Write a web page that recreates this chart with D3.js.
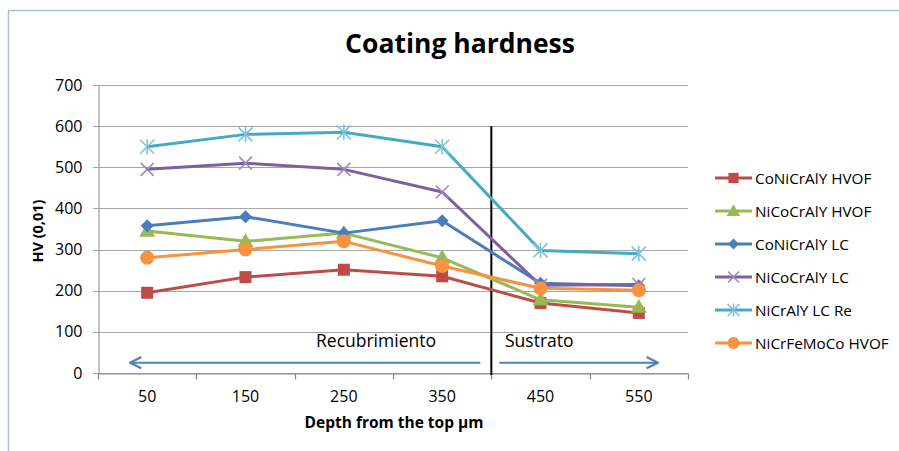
<!DOCTYPE html>
<html>
<head>
<meta charset="utf-8">
<script src="https://cdn.jsdelivr.net/npm/d3@7"></script>
<style>
  html, body { margin: 0; padding: 0; background: #fff; }
  svg { display: block; font-family: "Open Sans", sans-serif; }
</style>
</head>
<body>
<svg id="chart" width="899" height="451"></svg>
<script>
// Depth categories (µm from the top surface)
const depths = ["50", "150", "250", "350", "450", "550"];
const yTicks = [0, 100, 200, 300, 400, 500, 600, 700];

// Microhardness HV(0,01) per coating
const coNiCrAlYHVOF   = [195, 233, 251, 235, 170, 146];
const niCoCrAlYHVOF   = [345, 320, 340, 280, 178, 160];
const coNiCrAlYLC     = [358, 380, 340, 370, 218, 212];
const niCoCrAlYLC     = [495, 510, 495, 440, 213, 215];
const niCrAlYLCRe     = [550, 580, 585, 550, 298, 290];
const niCrFeMoCoHVOF  = [280, 300, 320, 260, 206, 201];

const series = [
  { name: "CoNiCrAlY HVOF",  values: coNiCrAlYHVOF,  color: "#BE4B48", marker: "square" },
  { name: "NiCoCrAlY HVOF",  values: niCoCrAlYHVOF,  color: "#98B954", marker: "triangle" },
  { name: "CoNiCrAlY LC",    values: coNiCrAlYLC,    color: "#4A7EBB", marker: "diamond" },
  { name: "NiCoCrAlY  LC",   values: niCoCrAlYLC,    color: "#7D60A0", marker: "x" },
  { name: "NiCrAlY  LC Re",  values: niCrAlYLCRe,    color: "#46AAC5", marker: "star" },
  { name: "NiCrFeMoCo HVOF", values: niCrFeMoCoHVOF, color: "#F69240", marker: "circle" }
];

const FONT = "'Open Sans', sans-serif";
const svg = d3.select("#chart");

// Outer chart frame
svg.append("rect")
  .attr("x", 8.5).attr("y", 10.5)
  .attr("width", 1000).attr("height", 1000)
  .attr("fill", "none").attr("stroke", "#A7BFDE").attr("stroke-width", 1.5);

const plot = { left: 98, right: 688, top: 85, bottom: 373 };

const x = d3.scaleBand().domain(depths).range([plot.left, plot.right]);
const y = d3.scaleLinear().domain([0, 700]).range([plot.bottom, plot.top]);
const cx = d => x(d) + x.bandwidth() / 2;

// Horizontal gridlines
svg.append("g").selectAll("line").data(yTicks).join("line")
  .attr("x1", plot.left - 5).attr("x2", plot.right)
  .attr("y1", d => Math.round(y(d)) + 0.5).attr("y2", d => Math.round(y(d)) + 0.5)
  .attr("stroke", "#A6A6A6").attr("stroke-width", 1.2);

// Y axis
const yAxis = svg.append("g")
  .attr("transform", `translate(${plot.left + 0.5},0)`)
  .call(d3.axisLeft(y).tickValues(yTicks).tickSize(0).tickPadding(16));
yAxis.select(".domain").attr("stroke", "#868686");
yAxis.selectAll("text").attr("font-size", 16).attr("fill", "#000").attr("font-family", FONT);

// X axis
const xAxis = svg.append("g")
  .attr("transform", `translate(0,${Math.round(y(0)) + 0.5})`)
  .call(d3.axisBottom(x).tickSize(0).tickPadding(17));
xAxis.select(".domain").attr("stroke", "#868686").attr("stroke-width", 1.2);
xAxis.selectAll("text").attr("font-size", 16).attr("fill", "#000").attr("font-family", FONT);
// tick marks sit on category boundaries
const bounds = depths.map(d => x(d)).concat([x(depths[depths.length - 1]) + x.bandwidth()]);
xAxis.selectAll(".bound").data(bounds).join("line")
  .attr("class", "bound")
  .attr("x1", d => Math.round(d) + 0.5).attr("x2", d => Math.round(d) + 0.5)
  .attr("y1", 0).attr("y2", 6)
  .attr("stroke", "#868686").attr("stroke-width", 1.2);

// Region arrows (coating vs substrate)
const defs = svg.append("defs");
defs.append("marker").attr("id", "arrowHead")
  .attr("viewBox", "0 0 10 10").attr("refX", 9).attr("refY", 5)
  .attr("markerWidth", 7).attr("markerHeight", 7).attr("orient", "auto-start-reverse")
  .append("path").attr("d", "M1,1 L9,5 L1,9").attr("fill", "none")
  .attr("stroke", "#4F81BD").attr("stroke-width", 1.6);

const boundaryX = x("450");
const arrowY = y(25);
svg.append("line")
  .attr("x1", cx("50") - 17).attr("x2", boundaryX - 11)
  .attr("y1", arrowY).attr("y2", arrowY)
  .attr("stroke", "#4F81BD").attr("stroke-width", 2)
  .attr("marker-start", "url(#arrowHead)");
svg.append("line")
  .attr("x1", boundaryX + 8).attr("x2", cx("550") + 19)
  .attr("y1", arrowY).attr("y2", arrowY)
  .attr("stroke", "#4F81BD").attr("stroke-width", 2)
  .attr("marker-end", "url(#arrowHead)");

// Coating / substrate divider
svg.append("line")
  .attr("x1", boundaryX).attr("x2", boundaryX)
  .attr("y1", y(600)).attr("y2", y(0) + 2)
  .attr("stroke", "#000").attr("stroke-width", 2);

svg.append("text").text("Recubrimiento")
  .attr("x", 376).attr("y", 347).attr("text-anchor", "middle")
  .attr("font-size", 17.5).attr("font-family", FONT);
svg.append("text").text("Sustrato")
  .attr("x", 505).attr("y", 347)
  .attr("font-size", 17.5).attr("font-family", FONT);

// Marker shapes
function drawMarker(g, type, color, px, py, scale) {
  const s = scale || 1;
  if (type === "square") {
    g.append("rect").attr("x", px - 6 * s).attr("y", py - 6 * s)
      .attr("width", 12 * s).attr("height", 12 * s).attr("fill", color);
  } else if (type === "triangle") {
    g.append("path").attr("d", d3.symbol(d3.symbolTriangle, 110 * s * s)())
      .attr("transform", `translate(${px},${py + 1})`).attr("fill", color);
  } else if (type === "diamond") {
    const r = 6.5 * s;
    g.append("path").attr("d", `M${px},${py - r}L${px + r},${py}L${px},${py + r}L${px - r},${py}Z`)
      .attr("fill", color);
  } else if (type === "circle") {
    g.append("circle").attr("cx", px).attr("cy", py).attr("r", 7 * s).attr("fill", color);
  } else if (type === "x") {
    const r = 6.5 * s;
    g.append("path").attr("d", `M${px - r},${py - r}L${px + r},${py + r}M${px - r},${py + r}L${px + r},${py - r}`)
      .attr("stroke", "#9C8AC0").attr("stroke-width", 1.6).attr("fill", "none");
  } else if (type === "star") {
    const r = 7 * s;
    g.append("path").attr("d",
      `M${px - r},${py - r}L${px + r},${py + r}M${px - r},${py + r}L${px + r},${py - r}M${px},${py - r * 1.1}L${px},${py + r * 1.1}`)
      .attr("stroke", "#7CC4D8").attr("stroke-width", 1.6).attr("fill", "none");
  }
}

// Series lines and markers
const line = d3.line()
  .x((d, i) => cx(depths[i]))
  .y(d => y(d));

series.forEach(s => {
  const g = svg.append("g");
  g.append("path").datum(s.values).attr("d", line)
    .attr("fill", "none").attr("stroke", s.color).attr("stroke-width", 3)
    .attr("stroke-linejoin", "round");
  s.values.forEach((v, i) => drawMarker(g, s.marker, s.color, cx(depths[i]), y(v)));
});

// Legend
const legend = svg.append("g");
series.forEach((s, i) => {
  const ly = 178 + i * 33;
  legend.append("line").attr("x1", 715).attr("x2", 752).attr("y1", ly).attr("y2", ly)
    .attr("stroke", s.color).attr("stroke-width", 3);
  drawMarker(legend, s.marker, s.color, 733.5, ly, 0.85);
  legend.append("text").text(s.name).attr("x", 755).attr("y", ly + 5.5)
    .attr("font-size", 15.3).attr("font-family", FONT);
});

// Titles
svg.append("text").text("Coating hardness")
  .attr("x", 460).attr("y", 53).attr("text-anchor", "middle")
  .attr("font-size", 26.5).attr("font-weight", "bold").attr("font-family", FONT);
svg.append("text").text("Depth from the top µm")
  .attr("x", 394).attr("y", 428).attr("text-anchor", "middle")
  .attr("font-size", 15.5).attr("font-weight", "bold").attr("font-family", FONT);
svg.append("text").text("HV (0,01)")
  .attr("transform", `translate(43,${y(345)}) rotate(-90)`)
  .attr("text-anchor", "middle")
  .attr("font-size", 14.5).attr("font-weight", "bold").attr("font-family", FONT);
</script>
</body>
</html>
